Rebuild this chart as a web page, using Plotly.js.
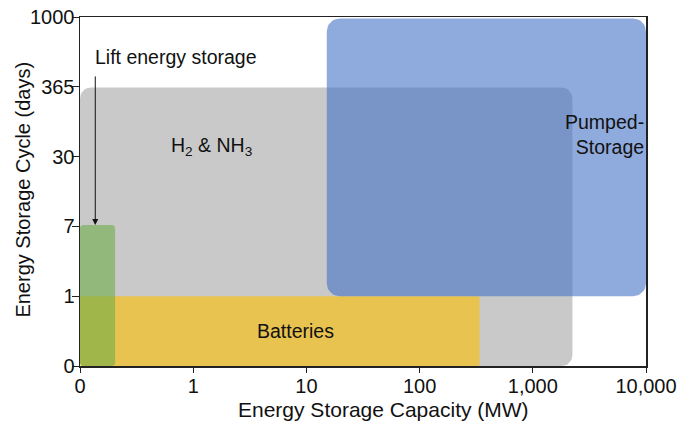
<!DOCTYPE html>
<html><head><meta charset="utf-8">
<script src="https://cdn.plot.ly/plotly-3.0.1.min.js"></script>
<style>html,body{margin:0;padding:0;background:#fff}#chart{width:689px;height:428px}</style>
</head><body><div id="chart"></div>
<script>
// Tick labels (ordinal positions 0..5)
const xTickLabels = ["0", "1", "10", "100", "1,000", "10,000"];
const yTickLabels = ["0", "1", "7", "30", "365", "1000"];
const xTitle = "Energy Storage Capacity (MW)";
const yTitle = "Energy Storage Cycle (days)";

// Technologies: extents in tick-position units
const techNames = ["H2 & NH3", "Batteries", "Pumped-Storage", "Lift energy storage"];
const techX0 = [0.0, 0.0, 2.18, 0.0];
const techX1 = [4.35, 3.53, 5.0, 0.31];
const techY0 = [0.0, 0.0, 1.0, 0.0];
const techY1 = [3.99, 1.0, 4.98, 2.02];

// styles
const fills = ["rgb(201,201,201)", "rgb(232,195,79)", "rgba(68,114,196,0.6)", "rgba(112,173,71,0.6)"];
const radiiPx = [11, 2, 13, 3];

const W = 689, H = 428;
const M = {l: 80, r: 43, t: 17, b: 62};
const pxPerX = (W - M.l - M.r) / 5;
const pxPerY = (H - M.t - M.b) / 5;

function roundedRect(x0, x1, y0, y1, rpx) {
  const rx = rpx / pxPerX, ry = rpx / pxPerY;
  const xs = [], ys = [];
  const corners = [
    [x1 - rx, y1 - ry, 0],
    [x0 + rx, y1 - ry, Math.PI/2],
    [x0 + rx, y0 + ry, Math.PI],
    [x1 - rx, y0 + ry, 3*Math.PI/2]
  ];
  const n = 8;
  corners.forEach(([cx, cy, a0]) => {
    for (let i = 0; i <= n; i++) {
      const a = a0 + (Math.PI/2) * i / n;
      xs.push(cx + rx * Math.cos(a));
      ys.push(cy + ry * Math.sin(a));
    }
  });
  xs.push(xs[0]); ys.push(ys[0]);
  return {xs, ys};
}

const traces = techNames.map((name, i) => {
  const p = roundedRect(techX0[i], techX1[i], techY0[i], techY1[i], radiiPx[i]);
  return {
    type: "scatter", mode: "lines", x: p.xs, y: p.ys, fill: "toself",
    fillcolor: fills[i], line: {width: 0, color: "rgba(0,0,0,0)"},
    name: name, hoverinfo: "skip", showlegend: false
  };
});

const fontFam = "Liberation Sans, Arial, sans-serif";
const txt = {family: fontFam, size: 19.5, color: "#111"};
const ttlX = {family: fontFam, size: 21, color: "#111"};
const ttlY = {family: fontFam, size: 20, color: "#111"};
const tick = {family: fontFam, size: 20, color: "#111"};

const layout = {
  width: W, height: H,
  margin: M,
  paper_bgcolor: "#fff", plot_bgcolor: "#fff",
  showlegend: false,
  font: txt,
  xaxis: {
    range: [0, 5], tickmode: "array", tickvals: xTickLabels.map((_, i) => i), ticktext: xTickLabels,
    showgrid: false, zeroline: false, showline: true, linecolor: "#222", linewidth: 1.5, mirror: true,
    ticks: "outside", ticklen: 5, tickcolor: "#222", tickfont: tick, ticklabelstandoff: -4
  },
  yaxis: {
    range: [0, 5], tickmode: "array", tickvals: yTickLabels.map((_, i) => i), ticktext: yTickLabels,
    showgrid: false, zeroline: false, showline: true, linecolor: "#222", linewidth: 1.5, mirror: true,
    ticks: "outside", ticklen: 7, tickcolor: "#222", tickfont: tick, ticklabelstandoff: -7
  },
  annotations: [
    {x: 2.68, y: -0.126, xref: "x", yref: "paper", text: xTitle, showarrow: false,
     xanchor: "center", yanchor: "middle", font: ttlX},
    {x: -0.101, y: 0.505, xref: "paper", yref: "paper", text: yTitle, showarrow: false, textangle: -90,
     xanchor: "center", yanchor: "middle", font: ttlY},
    {x: 0.115, y: 4.43, xref: "x", yref: "y", text: "Lift energy storage", showarrow: false,
     xanchor: "left", yanchor: "middle", font: txt},
    {x: 0.135, y: techY1[3], xref: "x", yref: "y", ax: 0.135, ay: 4.17, axref: "x", ayref: "y",
     text: "", showarrow: true, arrowhead: 2, arrowsize: 1.2, arrowwidth: 1, arrowcolor: "#111"},
    {x: 1.16, y: 3.14, xref: "x", yref: "y", text: "H<sub>2</sub> & NH<sub>3</sub>", showarrow: false,
     xanchor: "center", yanchor: "middle", font: txt},
    {x: 1.9, y: 0.5, xref: "x", yref: "y", text: "Batteries", showarrow: false,
     xanchor: "center", yanchor: "middle", font: txt},
    {x: 5.0, y: 3.32, xref: "x", yref: "y", text: "Pumped-<br>Storage", showarrow: false,
     xanchor: "right", yanchor: "middle", align: "right", font: txt}
  ]
};

Plotly.newPlot("chart", traces, layout, {displayModeBar: false, staticPlot: true});
</script></body></html>
